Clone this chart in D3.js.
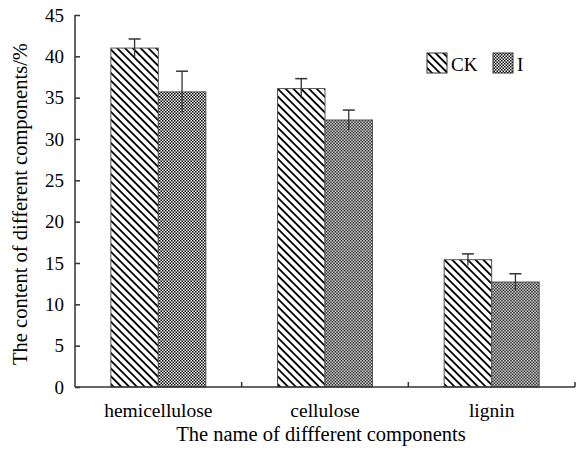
<!DOCTYPE html>
<html>
<head>
<meta charset="utf-8">
<script src="https://cdn.jsdelivr.net/npm/d3@7"></script>
<style>
  body { margin: 0; background: #fff; }
  text { font-family: "Liberation Serif", "DejaVu Serif", serif; fill: #000; }
</style>
</head>
<body>
<div id="chart"></div>
<script>
const categories = ["hemicellulose", "cellulose", "lignin"];
const seriesNames = ["CK", "I"];
const ckValues = [41.0, 36.1, 15.4];
const ckErrors = [1.1, 1.2, 0.7];
const iValues = [35.7, 32.3, 12.7];
const iErrors = [2.5, 1.2, 1.0];
const yTicks = [0, 5, 10, 15, 20, 25, 30, 35, 40, 45];

const margin = { top: 15, right: 8, bottom: 67, left: 75 };
const width = 583 - margin.left - margin.right;
const height = 454 - margin.top - margin.bottom;

const svg = d3.select("#chart").append("svg")
    .attr("width", 583)
    .attr("height", 454);

// fill patterns
const defs = svg.append("defs");
const hatch = defs.append("pattern")
    .attr("id", "pat-CK")
    .attr("patternUnits", "userSpaceOnUse")
    .attr("width", 5.5).attr("height", 5.5)
    .attr("patternTransform", "rotate(-45)");
hatch.append("rect").attr("width", 5.5).attr("height", 5.5).attr("fill", "#fff");
hatch.append("rect").attr("x", 0).attr("width", 1.8).attr("height", 5.5).attr("fill", "#000");

const check = defs.append("pattern")
    .attr("id", "pat-I")
    .attr("patternUnits", "userSpaceOnUse")
    .attr("width", 3).attr("height", 3);
check.append("rect").attr("width", 3).attr("height", 3).attr("fill", "#fff");
check.append("rect").attr("width", 1.5).attr("height", 1.5).attr("fill", "#000");
check.append("rect").attr("x", 1.5).attr("y", 1.5).attr("width", 1.5).attr("height", 1.5).attr("fill", "#000");

const g = svg.append("g")
    .attr("transform", "translate(" + margin.left + "," + margin.top + ")");

const x = d3.scaleBand()
    .domain(categories)
    .range([0, width]);

const xInner = d3.scaleBand()
    .domain(seriesNames)
    .range([x.bandwidth() * 0.215, x.bandwidth() * 0.785]);

const y = d3.scaleLinear()
    .domain([0, 45])
    .range([height, 0]);

const data = categories.map((c, i) => ({
    category: c,
    values: [
        { name: "CK", value: ckValues[i], err: ckErrors[i] },
        { name: "I", value: iValues[i], err: iErrors[i] }
    ]
}));

const groups = g.selectAll(".grp")
    .data(data)
    .enter().append("g")
    .attr("transform", d => "translate(" + x(d.category) + ",0)");

groups.selectAll("rect")
    .data(d => d.values)
    .enter().append("rect")
    .attr("x", d => xInner(d.name))
    .attr("width", xInner.bandwidth())
    .attr("y", d => y(d.value))
    .attr("height", d => height - y(d.value))
    .attr("fill", d => "url(#pat-" + d.name + ")")
    .attr("stroke", "#555")
    .attr("stroke-width", 1);

// error bars
const err = groups.selectAll(".err")
    .data(d => d.values)
    .enter().append("g");
err.append("line")
    .attr("x1", d => xInner(d.name) + xInner.bandwidth() / 2)
    .attr("x2", d => xInner(d.name) + xInner.bandwidth() / 2)
    .attr("y1", d => y(d.value - d.err))
    .attr("y2", d => y(d.value + d.err))
    .attr("stroke", "#333").attr("stroke-width", 1.3);
err.append("line")
    .attr("x1", d => xInner(d.name) + xInner.bandwidth() / 2 - 6)
    .attr("x2", d => xInner(d.name) + xInner.bandwidth() / 2 + 6)
    .attr("y1", d => y(d.value + d.err))
    .attr("y2", d => y(d.value + d.err))
    .attr("stroke", "#333").attr("stroke-width", 1.5);

// y axis, ticks inside
const yAxis = g.append("g")
    .call(d3.axisRight(y).tickValues(yTicks).tickSize(5).tickFormat(""));
yAxis.select(".domain").attr("d", "M0," + height + "V0").attr("stroke", "#333").attr("stroke-width", 1.5);
yAxis.selectAll(".tick line").attr("stroke", "#333").attr("stroke-width", 1.5);

g.selectAll(".ylab")
    .data(yTicks)
    .enter().append("text")
    .attr("x", -11)
    .attr("y", d => y(d))
    .attr("dy", "0.35em")
    .attr("text-anchor", "end")
    .style("font-size", "19px")
    .text(d => d);

// x axis with boundary ticks pointing up
g.append("line")
    .attr("x1", 0).attr("x2", width)
    .attr("y1", height).attr("y2", height)
    .attr("stroke", "#333").attr("stroke-width", 1.5);
g.selectAll(".xtick")
    .data(categories.slice(1).concat(["end"]))
    .enter().append("line")
    .attr("x1", (d, i) => i < 2 ? x(d) : width)
    .attr("x2", (d, i) => i < 2 ? x(d) : width)
    .attr("y1", height).attr("y2", height - 5)
    .attr("stroke", "#333").attr("stroke-width", 1.5);

g.selectAll(".xlab")
    .data(categories)
    .enter().append("text")
    .attr("x", d => x(d) + x.bandwidth() / 2)
    .attr("y", height + 30)
    .attr("text-anchor", "middle")
    .style("font-size", "19.5px")
    .text(d => d);

svg.append("text")
    .attr("x", margin.left + width / 2 - 4)
    .attr("y", 441)
    .attr("text-anchor", "middle")
    .style("font-size", "20.5px")
    .text("The name of diffferent components");

svg.append("text")
    .attr("transform", "translate(27," + (margin.top + height / 2 + 3) + ") rotate(-90)")
    .attr("text-anchor", "middle")
    .style("font-size", "20.5px")
    .text("The content of different components/%");

// legend
const legend = svg.append("g");
const legendX = [427, 493];
seriesNames.forEach((s, i) => {
    legend.append("rect")
        .attr("x", legendX[i]).attr("y", 53)
        .attr("width", 20).attr("height", 20)
        .attr("fill", "url(#pat-" + s + ")")
        .attr("stroke", "#333").attr("stroke-width", 1);
    legend.append("text")
        .attr("x", legendX[i] + 24).attr("y", 71)
        .style("font-size", "19px")
        .text(s);
});
</script>
</body>
</html>
